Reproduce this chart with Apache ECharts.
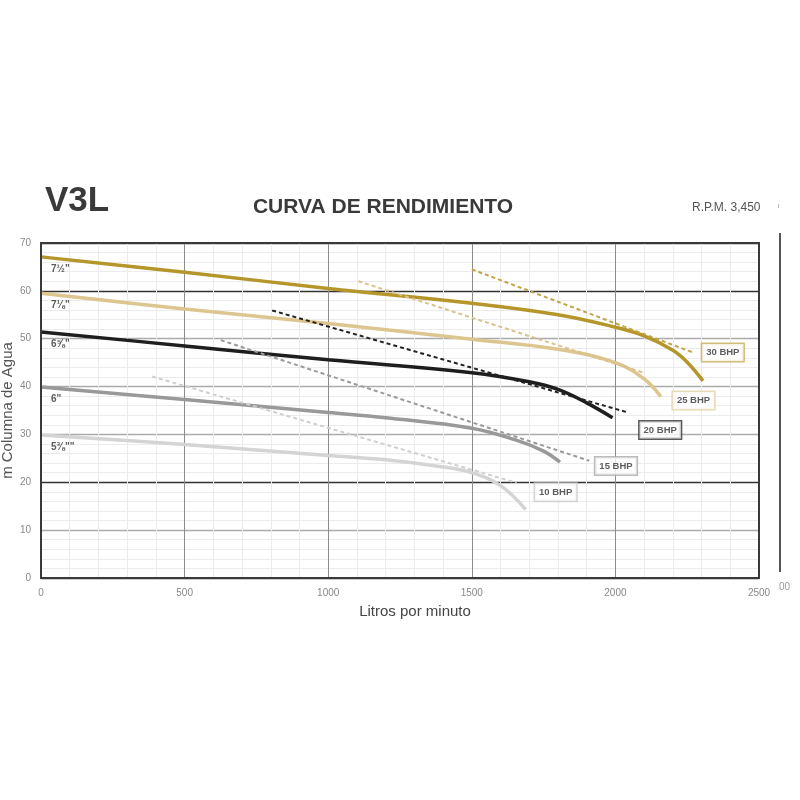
<!DOCTYPE html>
<html>
<head>
<meta charset="utf-8">
<script src="https://cdn.jsdelivr.net/npm/echarts@6/dist/echarts.min.js"></script>
<style>
html,body{margin:0;padding:0;background:#fff;}
#chart{width:800px;height:800px;}
</style>
</head>
<body>
<div id="chart"></div>
<script>
// ---- data ----
const xTicks = [0, 500, 1000, 1500, 2000, 2500];
const yTicks = [0, 10, 20, 30, 40, 50, 60, 70];

const impellers = ['7½"', '7⅛"', '6⅝"', '6"', '5⅜""'];

const flow75 = [0, 500, 1000, 1500, 1800, 2000, 2100, 2200, 2250, 2305];
const head75 = [67.1, 63.9, 60.5, 57.4, 55.0, 52.4, 50.6, 47.6, 45.1, 41.2];

const flow718 = [0, 500, 1000, 1500, 1800, 2000, 2100, 2158];
const head718 = [59.5, 56.2, 53.2, 49.9, 47.8, 45.0, 41.6, 37.9];

const flow658 = [0, 500, 1000, 1500, 1700, 1800, 1900, 1990];
const head658 = [51.4, 48.5, 45.6, 42.9, 41.0, 39.4, 36.6, 33.5];

const flow6 = [0, 500, 1000, 1200, 1500, 1650, 1750, 1807];
const head6 = [39.9, 37.3, 34.6, 33.5, 31.3, 28.9, 26.5, 24.2];

const flow538 = [0, 500, 1000, 1200, 1400, 1500, 1600, 1688];
const head538 = [29.9, 27.9, 25.6, 24.7, 23.2, 22.0, 19.3, 14.3];

const bhpNames = ['30 BHP', '25 BHP', '20 BHP', '15 BHP', '10 BHP'];
const bhpFlow = [[1500, 2271], [1105, 2103], [805, 2037], [626, 1909], [387, 1656]];
const bhpHead = [[64.5, 47.1], [62.0, 42.8], [55.9, 34.7], [49.7, 24.5], [42.1, 19.9]];
const bhpLabelFlow = [2374, 2272, 2156, 2002, 1792];
const bhpLabelHead = [47.1, 37.1, 30.9, 23.4, 17.9];

// ---- styles ----
const curveColors = ['#b5962a', '#dcc58f', '#1e1e1e', '#999999', '#d4d4d4'];
const dashColors = ['#c2a446', '#d9c28c', '#222222', '#9a9a9a', '#cfcfcf'];
const boxColors = ['#c8ad5a', '#e2d2a8', '#333333', '#aaaaaa', '#cccccc'];

const curves = [
  [flow75, head75], [flow718, head718], [flow658, head658], [flow6, head6], [flow538, head538]
];

const series = [];
curves.forEach((c, i) => {
  series.push({
    type: 'line', name: impellers[i], smooth: 0.4,
    showSymbol: false, silent: true,
    data: c[0].map((q, k) => [q, c[1][k]]),
    lineStyle: { color: curveColors[i], width: 3.5 },
    z: 3
  });
});
bhpNames.forEach((n, i) => {
  series.push({
    type: 'line', name: n, showSymbol: false, silent: true,
    data: bhpFlow[i].map((q, k) => [q, bhpHead[i][k]]),
    lineStyle: { color: dashColors[i], width: 2, type: [4, 3] },
    z: 4
  });
});
// impeller labels at start of each curve
series.push({
  type: 'scatter', symbolSize: 0, silent: true, z: 6,
  data: curves.map((c, i) => ({
    value: [c[0][0], c[1][0]],
    label: {
      show: true, position: 'right', distance: 10, offset: [0, 12],
      formatter: impellers[i],
      fontFamily: 'Liberation Sans, Arial, sans-serif', fontWeight: 'bold', fontSize: 10, color: '#333'
    }
  }))
});
// BHP labels
series.push({
  type: 'scatter', symbolSize: 0, silent: true, z: 7,
  data: bhpNames.map((n, i) => ({
    value: [bhpLabelFlow[i], bhpLabelHead[i]],
    label: {
      show: true, position: 'inside', formatter: n,
      fontFamily: 'Liberation Sans, Arial, sans-serif', fontWeight: 'bold', fontSize: 9.5, color: '#333',
      backgroundColor: '#fff', borderColor: boxColors[i], borderWidth: 1.5, padding: [4, 4, 3, 4]
    }
  }))
});

const FONT = 'Liberation Sans, Arial, sans-serif';
const chart = echarts.init(document.getElementById('chart'), null, { renderer: 'canvas' });
chart.setOption({
  backgroundColor: '#fff',
  animation: false,
  grid: { left: 41, right: 41, top: 243, bottom: 222, containLabel: false, outerBoundsMode: 'none',
          show: true, borderColor: '#3a3a3a', borderWidth: 2, backgroundColor: 'transparent', z: 10 },
  xAxis: {
    type: 'value', min: xTicks[0], max: xTicks[xTicks.length - 1], interval: 500,
    name: 'Litros por minuto', nameLocation: 'middle', nameGap: 26, nameMoveOverlap: false,
    nameTextStyle: { fontFamily: FONT, fontSize: 15, color: '#444', padding: [0, 0, 0, 30] },
    axisLine: { show: false }, axisTick: { show: false },
    axisLabel: { margin: 10, fontFamily: FONT, fontSize: 10, color: '#888', formatter: v => String(v) },
    minorTick: { show: false, splitNumber: 5 },
    splitLine: { show: true, lineStyle: { color: '#8c8c8c', width: 1 } },
    minorSplitLine: { show: true, lineStyle: { color: '#ececec', width: 1 } }
  },
  yAxis: {
    type: 'value', min: yTicks[0], max: yTicks[yTicks.length - 1], interval: 10,
    name: 'm Columna de Agua', nameLocation: 'middle', nameGap: 26, nameRotate: 90, nameMoveOverlap: false,
    nameTextStyle: { fontFamily: FONT, fontSize: 15, color: '#555' },
    axisLine: { show: false }, axisTick: { show: false },
    axisLabel: { margin: 10, fontFamily: FONT, fontSize: 10, color: '#888', formatter: v => String(v) },
    minorTick: { show: false, splitNumber: 5 },
    splitLine: { show: true, lineStyle: { color: ['#333', '#aaa', '#333', '#aaa', '#aaa', '#aaa', '#333', '#333'], width: 1.3 } },
    minorSplitLine: { show: true, lineStyle: { color: '#ececec', width: 1 } }
  },
  graphic: [
    { type: 'text', x: 45, y: 201, style: { text: 'V3L', font: 'bold 35px ' + FONT, fill: '#3a3a3a', textVerticalAlign: 'middle' } },
    { type: 'text', x: 383, y: 207, style: { text: 'CURVA DE RENDIMIENTO', font: 'bold 21px ' + FONT, fill: '#3a3a3a', textAlign: 'center', textVerticalAlign: 'middle' } },
    { type: 'text', x: 692, y: 208, style: { text: 'R.P.M. 3,450', font: '12px ' + FONT, fill: '#555', textVerticalAlign: 'middle' } },
    { type: 'line', shape: { x1: 778.5, y1: 204, x2: 778.5, y2: 208 }, style: { stroke: '#bbb', lineWidth: 1 } },
    { type: 'line', shape: { x1: 780, y1: 233, x2: 780, y2: 572 }, style: { stroke: '#555', lineWidth: 2 } },
    { type: 'text', x: 779, y: 587, style: { text: '00', font: '10px ' + FONT, fill: '#999', textVerticalAlign: 'middle' } }
  ],
  series: series
});
</script>
</body>
</html>
